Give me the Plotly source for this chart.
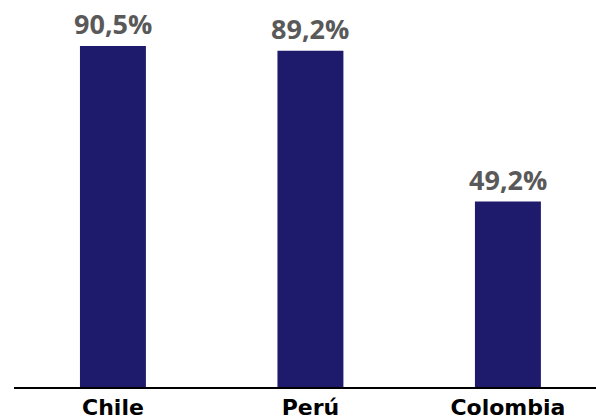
import plotly.graph_objects as go

categories = ["Chile", "Perú", "Colombia"]
values = [90.5, 89.2, 49.2]
labels = ["90,5%", "89,2%", "49,2%"]

fig = go.Figure()
fig.add_trace(go.Bar(
    x=list(range(len(categories))), y=values, width=0.334,
    marker=dict(color="#1F1B6C", line=dict(width=0)),
    hoverinfo="skip",
))
for i, (v, t) in enumerate(zip(values, labels)):
    fig.add_annotation(x=i, y=v, text="<b>%s</b>" % t, showarrow=False,
                       yanchor="bottom", yshift=2,
                       font=dict(family="Open Sans", size=27, color="#595959"))

fig.update_layout(
    width=596, height=416,
    margin=dict(l=14, r=0, t=0, b=29),
    plot_bgcolor="white", paper_bgcolor="white",
    showlegend=False,
    xaxis=dict(range=[-0.501, 2.446], tickmode="array",
               tickvals=list(range(len(categories))),
               ticktext=["<b>%s</b>" % c for c in categories],
               tickfont=dict(family="DejaVu Sans", size=22, color="#000000"),
               showline=True, linecolor="#000000", linewidth=1.5,
               showgrid=False, zeroline=False, ticks="", automargin=False),
    yaxis=dict(range=[0, 102.7], visible=False, showgrid=False, zeroline=False,
               automargin=False),
)
fig.write_html("out.html")
